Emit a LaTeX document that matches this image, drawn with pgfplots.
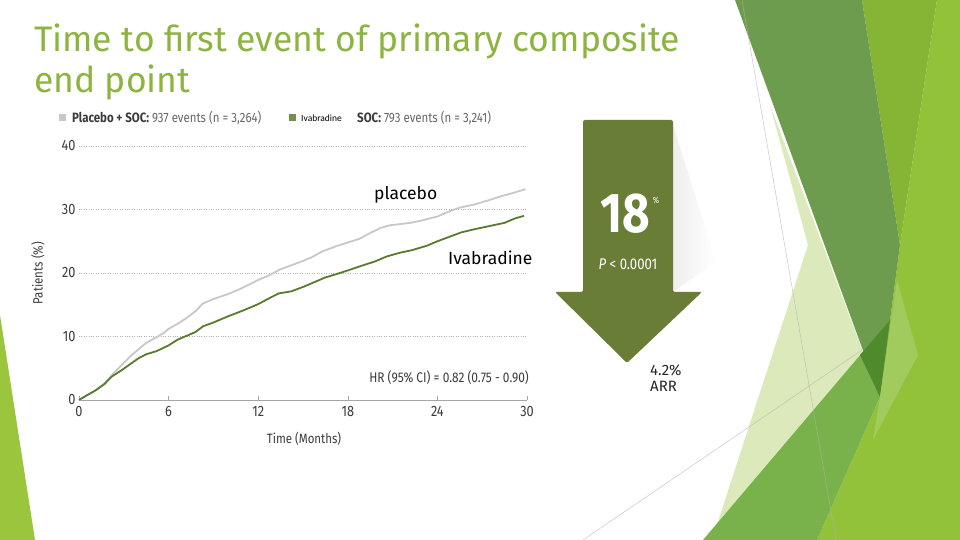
\documentclass[border=0pt]{standalone}
\usepackage{pgfplots}
\pgfplotsset{compat=1.18}
\usepackage{fontspec}
\setmainfont{Fira Sans}
\newfontfamily\din[FakeStretch=0.85]{Fira Sans}
\newfontfamily\calfont{Carlito}
\definecolor{ttl}{HTML}{8DB43E}
\definecolor{arrowgreen}{HTML}{697D36}
\definecolor{ivagreen}{HTML}{5A7A2E}
\definecolor{plagray}{HTML}{C8C8C8}
\definecolor{txtgray}{HTML}{3C3C3C}
\definecolor{lightgray}{HTML}{666666}
\definecolor{pale}{HTML}{DCE9BA}
\definecolor{band}{HTML}{6E9C4E}
\definecolor{midtop}{HTML}{86B535}
\definecolor{bright}{HTML}{92C13A}
\definecolor{midlow}{HTML}{79B24A}
\definecolor{darkest}{HTML}{4F8A2C}
\definecolor{lightov}{HTML}{A2CB5E}
\definecolor{sliver}{HTML}{9BC53D}

\pgfplotstableread{
t y
0 0
0.5 0.7
1.1 1.5
1.7 2.6
2.2 3.9
2.8 5.4
3.4 6.8
4.0 8.0
4.5 9.0
5.2 9.9
5.7 10.6
6.0 11.2
6.6 12.0
7.2 12.9
7.8 14.0
8.3 15.2
9.0 15.9
10.0 16.7
10.8 17.5
11.5 18.3
12.0 18.9
12.8 19.7
13.4 20.5
14.2 21.2
15.0 21.9
15.6 22.5
16.3 23.4
17.2 24.2
18.0 24.8
18.8 25.4
19.5 26.3
20.2 27.1
20.8 27.5
21.5 27.7
22.2 27.9
23.0 28.3
24.0 28.9
24.8 29.7
25.5 30.3
26.5 30.8
27.5 31.5
28.3 32.1
29.2 32.7
29.9 33.2
}\placebo

\pgfplotstableread{
t y
0 0
0.5 0.7
1.1 1.5
1.7 2.5
2.2 3.7
2.8 4.6
3.4 5.6
4.0 6.6
4.5 7.2
5.2 7.7
6.0 8.6
6.6 9.5
7.2 10.1
7.8 10.7
8.3 11.6
9.0 12.2
10.0 13.2
11.0 14.1
12.0 15.1
12.8 16.1
13.4 16.8
14.2 17.1
15.0 17.8
15.8 18.6
16.5 19.3
17.2 19.8
18.0 20.4
19.0 21.2
19.8 21.8
20.6 22.6
21.5 23.2
22.3 23.6
23.3 24.3
24.0 25.0
24.8 25.7
25.6 26.4
26.5 26.9
27.5 27.4
28.5 27.9
29.2 28.6
29.8 29.0
}\ivabradine

\begin{document}
\begin{tikzpicture}[x=1pt,y=1pt]
\useasboundingbox (0,0) rectangle (960,540);
\fill[white] (0,0) rectangle (960,540);

% slide decoration
\fill[sliver] (0,225) -- (35,0) -- (0,0) -- cycle;
\fill[pale] (770,435) -- (880,143) -- (760,0) -- (712,0) -- (808,295) -- cycle;
\fill[bright] (937,540) -- (960,540) -- (960,0) -- (817,0) -- (880,143) -- (900,295) -- cycle;
\fill[midtop] (862,540) -- (937,540) -- (900,295) -- cycle;
\fill[band] (735,540) -- (862,540) -- (900,295) -- (880,143) -- cycle;
\fill[midlow] (703,0) -- (890,220) -- (880,143) -- (817,0) -- cycle;
\fill[darkest] (860,185) -- (890,220) -- (880,143) -- cycle;
\fill[lightov] (897,260) -- (918,185) -- (873,100) -- (880,143) -- cycle;
\draw[gray!60, line width=0.5pt, opacity=0.7] (742,540) -- (836,0);
\draw[gray!60, line width=0.5pt, opacity=0.7] (583,0) -- (862,190);

% title
\node[anchor=base west, inner sep=0, text=ttl, font=\fontsize{35.5}{40}\selectfont] at (34,488) {Time to first event of primary composite};
\node[anchor=base west, inner sep=0, text=ttl, font=\fontsize{35.5}{40}\selectfont] at (34,447) {end point};

% legend line
\fill[plagray] (59,418.5) rectangle (66,425.5);
\node[anchor=west, inner sep=0, text=lightgray, font=\din\fontsize{13.5}{13.5}\selectfont] at (72,422) {\textcolor{txtgray}{\textbf{Placebo + SOC:}} 937 events (n = 3,264)};
\fill[ivagreen!85] (289,418.5) rectangle (296,425.5);
\node[anchor=west, inner sep=0, text=black, font=\calfont\fontsize{9.5}{9.5}\selectfont] at (301,422) {Ivabradine};
\node[anchor=west, inner sep=0, text=lightgray, font=\din\fontsize{13.5}{13.5}\selectfont] at (357,422) {\textcolor{txtgray}{\textbf{SOC:}} 793 events (n = 3,241)};

\begin{axis}[
    at={(79pt,140pt)}, anchor=south west,
    scale only axis, width=448pt, height=254pt,
    xmin=0, xmax=30, ymin=0, ymax=40,
    xtick={0,6,...,30}, ytick={0,10,...,40},
    axis lines*=left,
    x axis line style={gray!70, line width=0.8pt},
    y axis line style={draw=none},
    ytick style={draw=none},
    xtick style={gray!70, line width=0.6pt},
    tick align=inside, major tick length=4pt,
    ymajorgrids, grid style={dotted, gray!60, line width=0.6pt},
    /pgf/number format/assume math mode=true,
    ticklabel style={font=\din\fontsize{15}{15}\selectfont, text=txtgray},
    xticklabel style={yshift=-3pt},
    clip=false,
]
\addplot[plagray, line width=1.8pt] table[x=t, y=y] {\placebo};
\addplot[ivagreen, line width=1.8pt] table[x=t, y=y] {\ivabradine};
\end{axis}

% axis titles
\node[rotate=90, text=txtgray, font=\din\fontsize{13.5}{13.5}\selectfont] at (38,267) {Patients (\%)};
\node[text=txtgray, font=\din\fontsize{13.5}{13.5}\selectfont] at (304,101) {Time (Months)};
\node[anchor=east, inner sep=0, text=txtgray, font=\din\fontsize{14}{14}\selectfont] at (529,162) {HR (95\% CI) = 0.82 (0.75 - 0.90)};

% curve labels
\node[anchor=west, inner sep=0, font=\fontsize{17.5}{17.5}\selectfont] at (374,345) {placebo};
\node[anchor=west, inner sep=0, font=\fontsize{17.5}{17.5}\selectfont] at (448,282) {Ivabradine};

% arrow
\shade[left color=gray!13, right color=white] (673,415) -- (716,278) -- (673,248) -- cycle;
\fill[arrowgreen, rounded corners=2pt] (583,420) -- (673,420) -- (673,248) -- (702,248) -- (627,177) -- (555,248) -- (583,248) -- cycle;
\node[text=white, font=\din\fontsize{56}{56}\selectfont\bfseries] at (625,326) {18};
\node[text=white, font=\din\fontsize{9}{9}\selectfont] at (656,340) {\%};
\node[text=white, font=\din\fontsize{15.5}{15.5}\selectfont] at (628,276) {\textit{P} < 0.0001};
\node[anchor=west, inner sep=0, text=black!85, font=\fontsize{15}{15}\selectfont] at (650,170) {4.2\%};
\node[anchor=west, inner sep=0, text=black!85, font=\fontsize{15}{15}\selectfont] at (650,154) {ARR};
\end{tikzpicture}
\end{document}
